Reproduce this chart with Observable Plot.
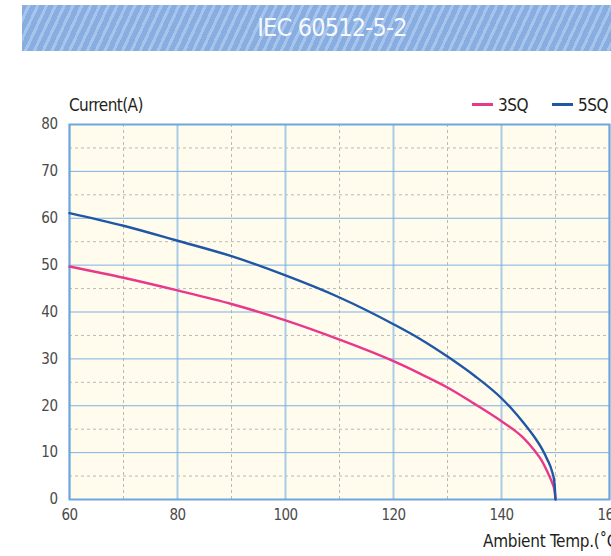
<!DOCTYPE html>
<html>
<head>
<meta charset="utf-8">
<script src="https://cdn.jsdelivr.net/npm/d3@7"></script>
<script src="https://cdn.jsdelivr.net/npm/@observablehq/plot@0.6"></script>
<style>
  html, body { margin: 0; padding: 0; background: #fff; overflow: hidden; }
  #wrap { position: relative; width: 611px; height: 556px; overflow: hidden; background: #fff;
          font-family: "DejaVu Sans Condensed", "Liberation Sans Narrow", sans-serif; }
  #banner { position: absolute; left: 22px; top: 5px; width: 620px; height: 46px;
            background: repeating-linear-gradient(115deg, #88ade1 0px, #88ade1 5px, #a7c4ec 5px, #a7c4ec 8px);
            color: #f6f9fd; font-size: 25px; letter-spacing: -0.8px; line-height: 46px; text-align: center; white-space: nowrap; }
  .lbl { position: absolute; font-size: 17px; line-height: 20px; color: #231f20; white-space: nowrap; letter-spacing: -0.5px; }
  .sw { position: absolute; height: 3px; width: 21px; }
  #chart { position: absolute; left: 0; top: 114px; width: 650px; }
  #chart svg text { letter-spacing: -0.5px; }
</style>
</head>
<body>
<div id="wrap">
  <div id="banner"></div>
  <div class="lbl" id="ylab"></div>
  <div id="legend"></div>
  <div id="chart"></div>
  <div class="lbl" id="xlab"></div>
</div>
<script>
const titleText = "IEC 60512-5-2";
const yLabel = "Current(A)";
const xLabel = "Ambient Temp.(˚C)";
const seriesNames = ["3SQ", "5SQ"];
const seriesColors = ["#e8388a", "#1f57a5"];
const temps = [60, 70, 80, 90, 100, 110, 120, 125, 130, 135, 140, 142, 144, 146, 147.5, 148.5, 149.3, 149.8, 150];
const sq3   = [49.7, 47.3, 44.6, 41.7, 38.2, 34.1, 29.5, 26.8, 23.9, 20.4, 16.7, 15.1, 13.2, 10.6, 8.2, 5.9, 3.8, 2.0, 0];
const sq5   = [61.1, 58.4, 55.2, 51.9, 47.8, 43.1, 37.4, 34.2, 30.5, 26.4, 21.6, 19.2, 16.5, 13.5, 10.8, 8.5, 6.2, 3.6, 0];
const xMajor = [60, 80, 100, 120, 140, 160];
const xMinor = [70, 90, 110, 130, 150];
const yMajor = [0, 10, 20, 30, 40, 50, 60, 70, 80];
const yMinor = [5, 15, 25, 35, 45, 55, 65, 75];

const FONT = '"DejaVu Sans Condensed", "Liberation Sans Narrow", sans-serif';

const data = [];
[sq3, sq5].forEach((vals, i) => vals.forEach((v, j) => data.push({series: seriesNames[i], t: temps[j], v})));

document.getElementById("banner").textContent = titleText;
const ylab = document.getElementById("ylab");
ylab.textContent = yLabel; ylab.style.left = "69px"; ylab.style.top = "95px";
ylab.style.letterSpacing = "-0.6px";
const xlab = document.getElementById("xlab");
xlab.textContent = xLabel; xlab.style.left = "483px"; xlab.style.top = "531px"; xlab.style.letterSpacing = "-0.3px";

const legend = document.getElementById("legend");
const legPos = [{sw: 472, tx: 498}, {sw: 552, tx: 578}];
seriesNames.forEach((name, i) => {
  const sw = document.createElement("div");
  sw.className = "sw"; sw.style.left = legPos[i].sw + "px"; sw.style.top = "102.5px"; sw.style.background = seriesColors[i];
  legend.appendChild(sw);
  const tx = document.createElement("div");
  tx.className = "lbl"; tx.textContent = name; tx.style.left = legPos[i].tx + "px"; tx.style.top = "95px";
  legend.appendChild(tx);
});

const chart = Plot.plot({
  width: 650,
  height: 427,
  marginLeft: 69,
  marginRight: 41,
  marginTop: 10,
  marginBottom: 42,
  style: {fontFamily: FONT, fontSize: "15px", color: "#4a4a4a", background: "transparent", overflow: "visible", maxWidth: "none"},
  x: {domain: [60, 160], label: null},
  y: {domain: [0, 80], label: null},
  color: {domain: seriesNames, range: seriesColors},
  marks: [
    Plot.frame({fill: "#fffcee", stroke: null}),
    Plot.ruleX(xMinor, {stroke: "#b9b9b9", strokeDasharray: "3,3", strokeWidth: 1}),
    Plot.ruleY(yMinor, {stroke: "#b9b9b9", strokeDasharray: "3,3", strokeWidth: 1}),
    Plot.ruleX(xMajor, {stroke: "#aacbe8", strokeWidth: 2}),
    Plot.ruleY(yMajor, {stroke: "#7db0e1", strokeWidth: 1}),
    Plot.frame({stroke: "#6ea7dc", strokeWidth: 2}),
    Plot.line(data, {x: "t", y: "v", stroke: "series", curve: "monotone-x", strokeWidth: 2.4}),
    Plot.axisX({ticks: xMajor, tickSize: 0, tickPadding: 10, label: null}),
    Plot.axisY({ticks: yMajor, tickSize: 0, tickPadding: 12, label: null})
  ]
});
document.getElementById("chart").appendChild(chart);
</script>
</body>
</html>
